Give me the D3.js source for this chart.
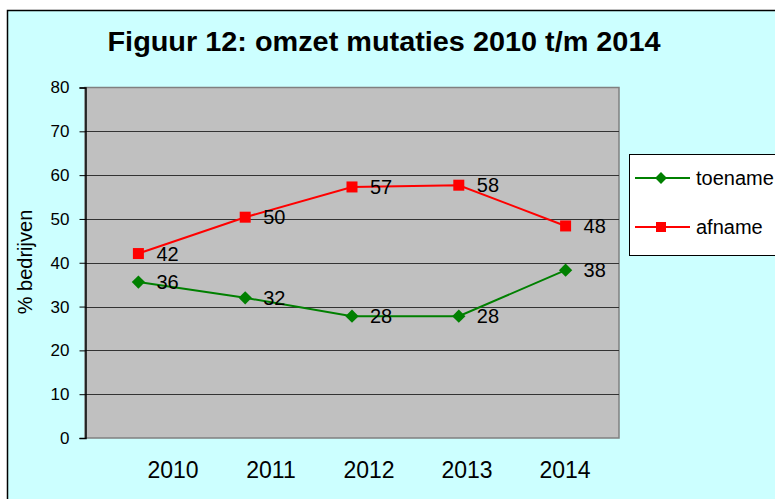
<!DOCTYPE html>
<html>
<head>
<meta charset="utf-8">
<script src="https://cdn.jsdelivr.net/npm/d3@7"></script>
<style>
  html, body { margin: 0; padding: 0; background: #ffffff; overflow: hidden; }
  text { font-family: "Liberation Sans", Arial, sans-serif; fill: #000; }
</style>
</head>
<body>
<div id="chart"></div>
<script>
// data
var years = ['2010', '2011', '2012', '2013', '2014'];
var toename = [35.6, 32.0, 27.8, 27.8, 38.3];
var afname = [42.1, 50.4, 57.3, 57.7, 48.4];
var yTicks = [0, 10, 20, 30, 40, 50, 60, 70, 80];
var seriesNames = ['toename', 'afname'];
var seriesColors = ['#008000', '#ff0000'];

var width = 775, height = 499;
var plot = { left: 85, right: 619, top: 87.5, bottom: 438 };

var svg = d3.select('#chart').append('svg')
    .attr('width', width)
    .attr('height', height);

// chart area frame
svg.append('rect')
    .attr('x', 7.5).attr('y', 10.5)
    .attr('width', 900).attr('height', 700)
    .attr('fill', '#ccffff')
    .attr('stroke', '#000')
    .attr('stroke-width', 1.5);

// title
svg.append('text')
    .attr('x', 384).attr('y', 51)
    .attr('text-anchor', 'middle')
    .attr('font-size', 28)
    .attr('font-weight', 'bold')
    .attr('textLength', 553)
    .attr('lengthAdjust', 'spacingAndGlyphs')
    .text('Figuur 12: omzet mutaties 2010 t/m 2014');

var x = d3.scalePoint()
    .domain(years)
    .range([plot.left, plot.right])
    .padding(0.5);

// category labels sit a bit off the points in the original
var xLab = d3.scalePoint()
    .domain(years)
    .range([173, 565]);

var y = d3.scaleLinear()
    .domain([0, 80])
    .range([plot.bottom, plot.top]);

// plot area
svg.append('rect')
    .attr('x', plot.left).attr('y', plot.top)
    .attr('width', plot.right - plot.left)
    .attr('height', plot.bottom - plot.top)
    .attr('fill', '#c0c0c0')
    .attr('stroke', '#808080')
    .attr('stroke-width', 1.5);

// gridlines
svg.append('g')
    .selectAll('line')
    .data(yTicks.filter(function (d) { return d > 0 && d < 80; }))
    .enter().append('line')
    .attr('x1', plot.left).attr('x2', plot.right)
    .attr('y1', function (d) { return Math.round(y(d)) + 0.5; })
    .attr('y2', function (d) { return Math.round(y(d)) + 0.5; })
    .attr('stroke', '#333')
    .attr('stroke-width', 1);

// y axis
var yAxis = svg.append('g')
    .attr('transform', 'translate(' + (plot.left + 0.5) + ',0)')
    .call(d3.axisLeft(y).tickValues(yTicks).tickSize(6).tickPadding(10));
yAxis.attr('font-size', 17).attr('font-family', '"Liberation Sans", Arial, sans-serif');
yAxis.select('.domain').attr('stroke', '#000').attr('stroke-width', 1.5);
yAxis.selectAll('.tick line').attr('stroke', '#000');

// x labels
svg.append('g')
    .selectAll('text')
    .data(years)
    .enter().append('text')
    .attr('x', function (d) { return xLab(d); })
    .attr('y', 478)
    .attr('text-anchor', 'middle')
    .attr('font-size', 23)
    .text(function (d) { return d; });

// y title
svg.append('text')
    .attr('transform', 'translate(32,262) rotate(-90)')
    .attr('text-anchor', 'middle')
    .attr('font-size', 20)
    .text('% bedrijven');

var line = d3.line()
    .x(function (d, i) { return x(years[i]); })
    .y(function (d) { return y(d); });

var diamond = d3.symbol().type(d3.symbolSquare).size(88);
var square = d3.symbol().type(d3.symbolSquare).size(121);

function drawSeries(values, color, isDiamond) {
    var g = svg.append('g');
    g.append('path')
        .datum(values)
        .attr('d', line)
        .attr('fill', 'none')
        .attr('stroke', color)
        .attr('stroke-width', 2);
    g.selectAll('path.mark')
        .data(values)
        .enter().append('path')
        .attr('class', 'mark')
        .attr('d', isDiamond ? diamond : square)
        .attr('transform', function (d, i) {
            return 'translate(' + x(years[i]) + ',' + y(d) + ')' + (isDiamond ? ' rotate(45)' : '');
        })
        .attr('fill', color);
    g.selectAll('text')
        .data(values)
        .enter().append('text')
        .attr('x', function (d, i) { return x(years[i]) + 18; })
        .attr('y', function (d) { return y(d) + 7; })
        .attr('font-size', 20)
        .text(d3.format('.0f'));
}

drawSeries(toename, seriesColors[0], true);
drawSeries(afname, seriesColors[1], false);

// legend
var lg = svg.append('g');
lg.append('rect')
    .attr('x', 629.5).attr('y', 154.5)
    .attr('width', 300).attr('height', 101)
    .attr('fill', '#ffffff')
    .attr('stroke', '#000')
    .attr('stroke-width', 1);

var legendY = [178, 227];
seriesNames.forEach(function (name, i) {
    lg.append('line')
        .attr('x1', 635).attr('x2', 690)
        .attr('y1', legendY[i]).attr('y2', legendY[i])
        .attr('stroke', seriesColors[i])
        .attr('stroke-width', 2);
    lg.append('path')
        .attr('d', i === 0 ? diamond.size(70)() : square.size(100)())
        .attr('transform', 'translate(661,' + legendY[i] + ')' + (i === 0 ? ' rotate(45)' : ''))
        .attr('fill', seriesColors[i]);
    lg.append('text')
        .attr('x', 696)
        .attr('y', legendY[i] + 7)
        .attr('font-size', 20)
        .text(name);
});
</script>
</body>
</html>
